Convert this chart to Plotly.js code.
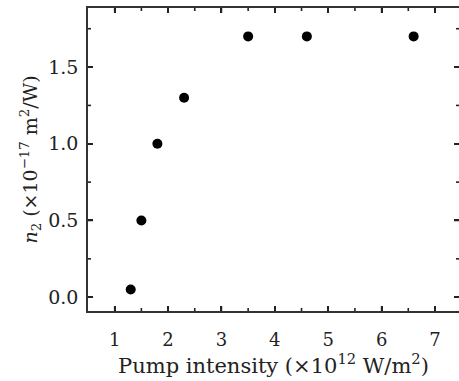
<!DOCTYPE html>
<html>
<head>
<meta charset="utf-8">
<script src="https://cdn.plot.ly/plotly-3.0.1.min.js"></script>
<style>html,body{margin:0;padding:0;background:#fff;}#chart{width:459px;height:381px;}</style>
</head>
<body>
<div id="chart"></div>
<script>
const pumpIntensity = [1.3, 1.5, 1.8, 2.3, 3.5, 4.6, 6.6];
const n2Values = [0.05, 0.5, 1.0, 1.3, 1.7, 1.7, 1.7];
const xTickVals = [1, 2, 3, 4, 5, 6, 7];
const xMinorVals = [1.5, 2.5, 3.5, 4.5, 5.5, 6.5];
const yTickVals = [0.0, 0.5, 1.0, 1.5];
const yMinorVals = [0.25, 0.75, 1.25, 1.75];
const yTickText = ['0.0', '0.5', '1.0', '1.5'];
const xRange = [0.5, 7.45];
const yRange = [-0.09, 1.885];

const W = 459, H = 381;
const M = {l: 88, r: 0, t: 8, b: 70};
const plotW = W - M.l - M.r, plotH = H - M.t - M.b;
const fontFam = 'DejaVu Serif, serif';
const tickColor = '#222';

// convert a tick length in pixels to data units along each axis
const dxPerPx = (xRange[1] - xRange[0]) / plotW;
const dyPerPx = (yRange[1] - yRange[0]) / plotH;

const shapes = [];
function xTick(v, len) {
  const d = len * dyPerPx;
  shapes.push({type: 'line', xref: 'x', yref: 'y', x0: v, x1: v, y0: yRange[0], y1: yRange[0] + d,
    line: {color: tickColor, width: 1.6}, layer: 'above'});
  shapes.push({type: 'line', xref: 'x', yref: 'y', x0: v, x1: v, y0: yRange[1], y1: yRange[1] - d,
    line: {color: tickColor, width: 1.6}, layer: 'above'});
}
function yTick(v, len) {
  const d = len * dxPerPx;
  shapes.push({type: 'line', xref: 'x', yref: 'y', x0: xRange[0], x1: xRange[0] + d, y0: v, y1: v,
    line: {color: tickColor, width: 1.6}, layer: 'above'});
  shapes.push({type: 'line', xref: 'x', yref: 'y', x0: xRange[1], x1: xRange[1] - d, y0: v, y1: v,
    line: {color: tickColor, width: 1.6}, layer: 'above'});
}
xTickVals.forEach(v => xTick(v, 5));
xMinorVals.forEach(v => xTick(v, 3));
yTickVals.forEach(v => yTick(v, 5));
yMinorVals.forEach(v => yTick(v, 3));

const dataTrace = {
  x: pumpIntensity,
  y: n2Values,
  type: 'scatter',
  mode: 'markers',
  marker: {color: '#000', size: 10},
  hoverinfo: 'none'
};

const layout = {
  width: W, height: H,
  margin: M,
  paper_bgcolor: '#fff', plot_bgcolor: '#fff',
  showlegend: false,
  shapes: shapes,
  xaxis: {
    showline: true, linecolor: '#333', linewidth: 1.5, mirror: 'ticks',
    ticks: 'inside', ticklen: 5, tickwidth: 1.5, tickcolor: tickColor,
    showgrid: false, zeroline: false,
    tickfont: {family: fontFam, size: 18, color: '#222'},
    range: xRange,
    tickmode: 'array',
    tickvals: xTickVals,
    ticklabelstandoff: 12,
    title: {text: 'Pump intensity (×10<sup>12</sup> W/m<sup>2</sup>)', font: {family: fontFam, size: 21, color: '#222'}, standoff: 2}
  },
  yaxis: {
    showline: true, linecolor: '#333', linewidth: 1.5, mirror: 'ticks',
    ticks: 'inside', ticklen: 5, tickwidth: 1.5, tickcolor: tickColor,
    showgrid: false, zeroline: false,
    tickfont: {family: fontFam, size: 19, color: '#222'},
    range: yRange,
    tickmode: 'array',
    tickvals: yTickVals,
    ticktext: yTickText,
    ticklabelstandoff: 4,
    title: {text: '<i>n</i><sub>2</sub> (×10<sup>−17</sup> m<sup>2</sup>/W)', font: {family: fontFam, size: 19, color: '#222'}, standoff: 6}
  }
};
Plotly.newPlot('chart', [dataTrace], layout, {displayModeBar: false});
</script>
</body>
</html>
